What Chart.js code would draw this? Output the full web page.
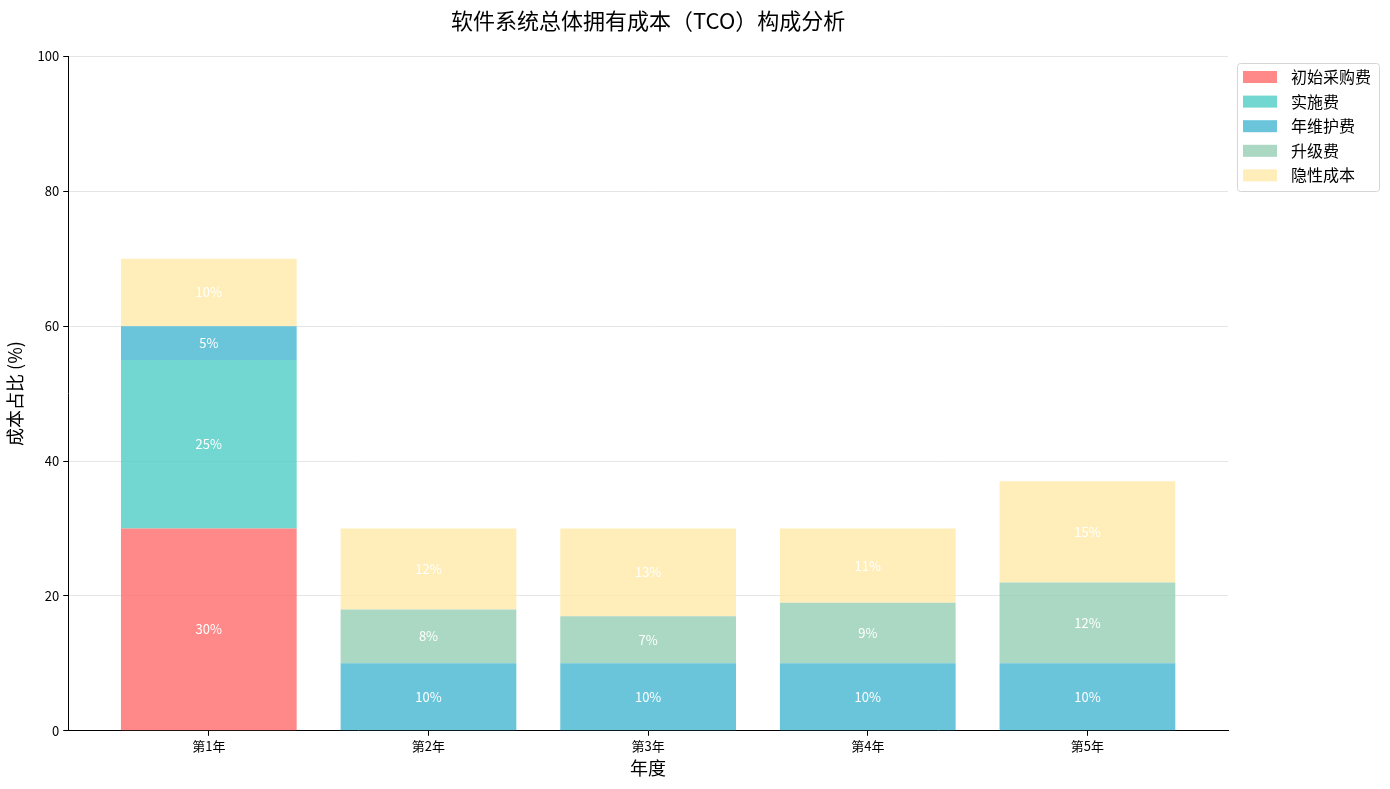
<!DOCTYPE html>
<html>
<head>
<meta charset="utf-8">
<script src="https://cdn.jsdelivr.net/npm/chart.js@4.4.1/dist/chart.umd.min.js"></script>
<style>
    body { margin: 0; background: #fff; }
    #wrap { width: 1390px; height: 789px; }
</style>
</head>
<body>
<div id="wrap"><canvas id="tcoChart" width="1390" height="789"></canvas></div>
<script>
const years = ['第1年', '第2年', '第3年', '第4年', '第5年'];
const seriesNames = ['初始采购费', '实施费', '年维护费', '升级费', '隐性成本'];
const purchaseCost = [30, 0, 0, 0, 0];
const implementCost = [25, 0, 0, 0, 0];
const maintainCost = [5, 10, 10, 10, 10];
const upgradeCost = [0, 8, 7, 9, 12];
const hiddenCost = [10, 12, 13, 11, 15];
const yTicks = [0, 20, 40, 60, 80, 100];

const seriesValues = [purchaseCost, implementCost, maintainCost, upgradeCost, hiddenCost];
const seriesColors = [
    'rgba(255, 107, 107, 0.8)',
    'rgba(78, 205, 196, 0.8)',
    'rgba(69, 183, 209, 0.8)',
    'rgba(150, 206, 180, 0.8)',
    'rgba(255, 234, 167, 0.8)'
];

const FONT = "'Noto Sans CJK SC', 'Noto Sans', sans-serif";
Chart.defaults.font.family = FONT;
Chart.defaults.color = '#000';

// white percentage text in the middle of each segment
const segmentLabels = {
    id: 'segmentLabels',
    afterDatasetsDraw(chart) {
        const ctx = chart.ctx;
        ctx.save();
        ctx.font = '13px ' + FONT;
        ctx.fillStyle = '#fff';
        ctx.textAlign = 'center';
        ctx.textBaseline = 'middle';
        chart.data.datasets.forEach((ds, di) => {
            const meta = chart.getDatasetMeta(di);
            meta.data.forEach((bar, i) => {
                const v = ds.data[i].y;
                if (v > 0) {
                    ctx.fillText(v + '%', bar.x, (bar.y + bar.base) / 2);
                }
            });
        });
        ctx.restore();
    }
};

// legend box outside the plot, top right
const sideLegend = {
    id: 'sideLegend',
    afterDraw(chart) {
        const ctx = chart.ctx;
        const left = chart.chartArea.right + 9;
        const top = 63;
        ctx.save();
        ctx.beginPath();
        ctx.roundRect(left + 0.5, top + 0.5, 142, 128, 3);
        ctx.fillStyle = 'rgba(255,255,255,0.8)';
        ctx.fill();
        ctx.strokeStyle = '#d5d5d5';
        ctx.lineWidth = 1;
        ctx.stroke();
        ctx.font = '16px ' + FONT;
        ctx.textBaseline = 'middle';
        ctx.textAlign = 'left';
        chart.data.datasets.forEach((ds, i) => {
            const y = top + 14 + i * 24.6;
            ctx.fillStyle = ds.backgroundColor;
            ctx.fillRect(left + 6, y - 6, 34, 12);
            ctx.fillStyle = '#000';
            ctx.fillText(ds.label, left + 54, y);
        });
        ctx.restore();
    }
};

const ctx = document.getElementById('tcoChart').getContext('2d');
const tcoChart = new Chart(ctx, {
    type: 'bar',
    data: {
        datasets: seriesNames.map((name, s) => ({
            label: name,
            data: years.map((_, i) => ({ x: i, y: seriesValues[s][i] })),
            backgroundColor: seriesColors[s],
            borderWidth: 0,
            barPercentage: 0.8,
            categoryPercentage: 1
        }))
    },
    options: {
        responsive: false,
        animation: false,
        devicePixelRatio: 1,
        layout: {
            padding: { top: 0, right: 162, bottom: 10, left: 4 }
        },
        plugins: {
            legend: { display: false },
            tooltip: { enabled: false },
            title: {
                display: true,
                fullSize: false,
                text: '软件系统总体拥有成本（TCO）构成分析',
                font: { size: 22, weight: 'normal' },
                color: '#000',
                padding: { top: 7, bottom: 23 }
            }
        },
        scales: {
            x: {
                type: 'linear',
                stacked: true,
                offset: false,
                min: -0.64,
                max: 4.64,
                afterBuildTicks(scale) {
                    scale.ticks = years.map((_, i) => ({ value: i }));
                },
                ticks: {
                    font: { size: 13 },
                    color: '#000',
                    padding: 2,
                    callback: value => years[value]
                },
                grid: {
                    offset: false,
                    drawOnChartArea: false,
                    drawTicks: true,
                    tickLength: 5,
                    tickColor: '#000'
                },
                border: { color: '#000', width: 1 },
                title: {
                    display: true,
                    text: '年度',
                    font: { size: 18 },
                    color: '#000',
                    padding: { top: 2, bottom: 0 }
                }
            },
            y: {
                stacked: true,
                min: 0,
                max: 100,
                afterBuildTicks(scale) {
                    scale.ticks = yTicks.map(v => ({ value: v }));
                },
                ticks: {
                    font: { size: 13 },
                    color: '#000',
                    padding: 4
                },
                grid: {
                    color: 'rgba(0,0,0,0.1)',
                    tickLength: 5,
                    tickColor: '#000'
                },
                border: { color: '#000', width: 1 },
                title: {
                    display: true,
                    text: '成本占比 (%)',
                    font: { size: 18 },
                    color: '#000',
                    padding: { top: 0, bottom: 8 }
                }
            }
        }
    },
    plugins: [segmentLabels, sideLegend]
});
</script>
</body>
</html>
